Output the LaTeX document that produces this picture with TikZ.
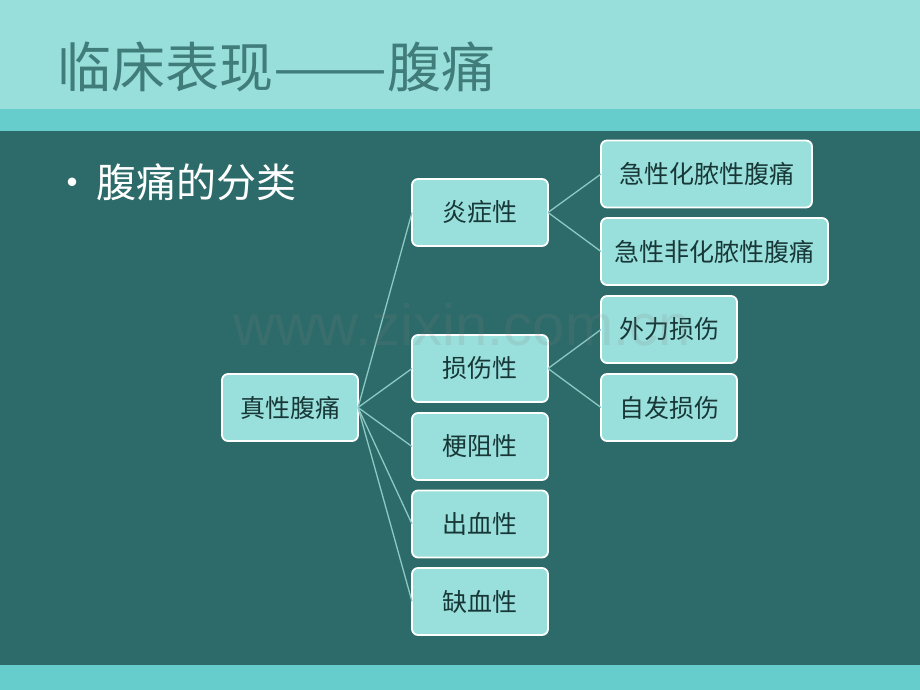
\documentclass[tikz,border=0pt]{standalone}
\usepackage{fontspec}
\usepackage{graphicx}
\setmainfont{Noto Sans CJK SC}
\newfontfamily\wmfont{Liberation Sans}
\definecolor{hdr}{HTML}{98DEDA}
\definecolor{strip}{HTML}{66CCCC}
\definecolor{body}{HTML}{2D6B6A}
\definecolor{titlec}{HTML}{3F7C7A}
\definecolor{boxfill}{HTML}{99DFDB}
\definecolor{boxtext}{HTML}{183838}
\definecolor{linkc}{HTML}{8CC8C4}
\tikzset{
  catbox/.style={rectangle, rounded corners=6pt, fill=boxfill, draw=white, line width=1.8pt,
    minimum height=67pt, inner sep=0pt, outer sep=0pt, text=boxtext, font=\fontsize{25}{28}\selectfont},
  link/.style={draw=linkc, line width=1.3pt}
}
\begin{document}
\begin{tikzpicture}[x=1pt,y=-1pt]
\useasboundingbox (0,0) rectangle (920,690);
% background bands
\fill[hdr] (0,0) rectangle (920,109);
\fill[strip] (0,109) rectangle (920,131);
\fill[body] (0,131) rectangle (920,665);
\fill[strip] (0,665) rectangle (920,690);
% title
\node[anchor=base west, inner sep=0pt, text=titlec, font=\fontsize{54}{60}\selectfont] (title) at (57,88) {临床表现\scalebox{1.26}[1]{——}腹痛};
% bullet
\node[anchor=base west, inner sep=0pt, text=white, font=\fontsize{40}{46}\selectfont] (bullet) at (52,197) {•\hspace{4pt}腹痛的分类};
% boxes
\node[catbox, minimum width=136pt] (root) at (290,407.5) {真性腹痛};
\node[catbox, minimum width=136pt] (inf) at (480,212.5) {炎症性};
\node[catbox, minimum width=136pt] (inj) at (480,368.5) {损伤性};
\node[catbox, minimum width=136pt] (obs) at (480,446.5) {梗阻性};
\node[catbox, minimum width=136pt] (ble) at (480,524) {出血性};
\node[catbox, minimum width=136pt] (isc) at (480,601.5) {缺血性};
\node[catbox, minimum width=211pt] (sup) at (706.5,174) {急性化脓性腹痛};
\node[catbox, minimum width=227pt] (nsup) at (714.5,251.5) {急性非化脓性腹痛};
\node[catbox, minimum width=136pt] (ext) at (669,329.5) {外力损伤};
\node[catbox, minimum width=136pt] (spo) at (669,407.5) {自发损伤};
% connectors
\foreach \c in {inf,inj,obs,ble,isc}{\draw[link] (root.east) -- (\c.west);}
\draw[link] (inf.east) -- (sup.west);
\draw[link] (inf.east) -- (nsup.west);
\draw[link] (inj.east) -- (ext.west);
\draw[link] (inj.east) -- (spo.west);
% watermark
\node[anchor=base west, inner sep=0pt, text=gray, opacity=0.15, font=\wmfont\fontsize{58}{60}\selectfont] (wm) at (233,345) {www.zixin.com.cn};
\end{tikzpicture}
\end{document}
